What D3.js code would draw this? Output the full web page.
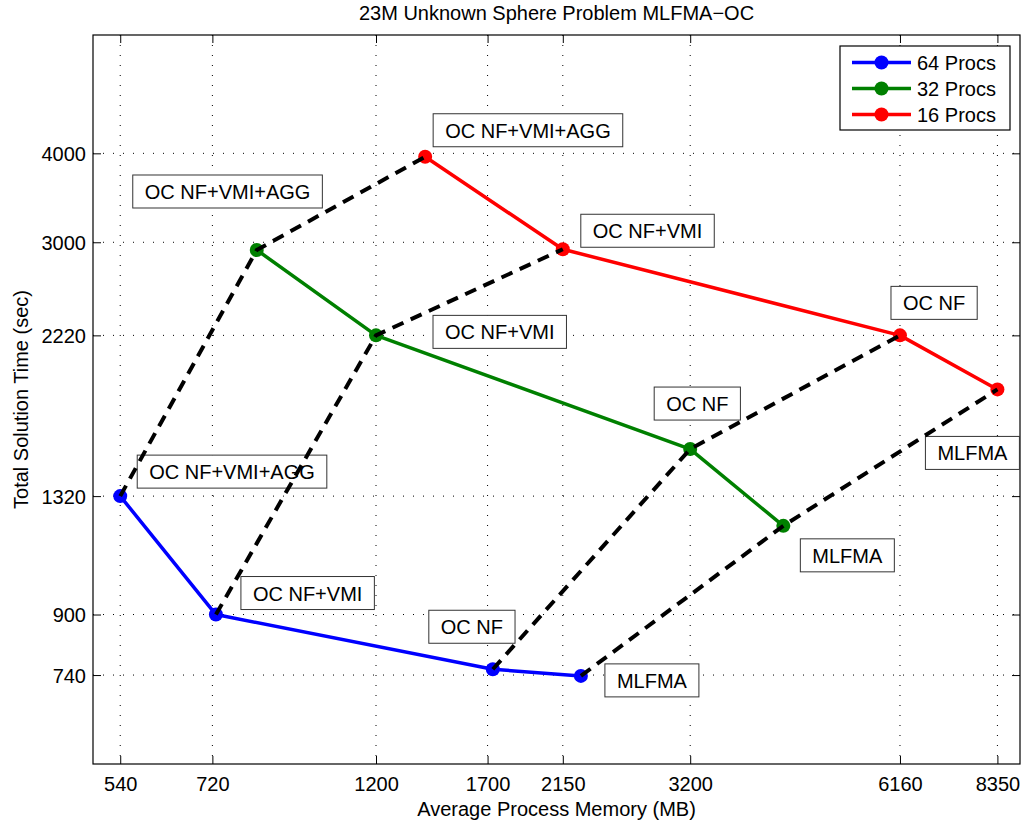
<!DOCTYPE html>
<html>
<head>
<meta charset="utf-8">
<script src="https://cdn.jsdelivr.net/npm/d3@7"></script>
<style>
  body { margin: 0; background: #fff; }
  svg text { font-family: "Liberation Sans", Arial, Helvetica, sans-serif; fill: #000; }
</style>
</head>
<body>
<div id="chart"></div>
<script>
// ---- data ----
var seriesNames = ["64 Procs", "32 Procs", "16 Procs"];
var memory64 = [540, 728, 1728, 2275];
var time64   = [1320, 900, 754, 738];
var memory32 = [827, 1200, 3200, 4280];
var time32   = [2926, 2220, 1537, 1199];
var memory16 = [1399, 2150, 6160, 8350];
var time16   = [3956, 2933, 2220, 1864];
var levels   = ["OC NF+VMI+AGG", "OC NF+VMI", "OC NF", "MLFMA"];

var xTicks = [540, 720, 1200, 1700, 2150, 3200, 6160, 8350];
var yTicks = [740, 900, 1320, 2220, 3000, 4000];

// ---- layout ----
var W = 1023, H = 825;
var plotL = 93, plotR = 1020, plotT = 35, plotB = 764;
var colors = ["#0000ff", "#008000", "#ff0000"];

// label box offsets (px, box top-left relative to its point), one row per series
var labelOffsets = [
  [[17, -41], [25, -38], [-64, -59], [24, -12]],
  [[-124, -75], [57, -20], [-36, -62], [17, 13]],
  [[8, -43], [18, -35], [-9, -49], [-72, 47]]
];

var series = [
  { name: seriesNames[0], mem: memory64, time: time64 },
  { name: seriesNames[1], mem: memory32, time: time32 },
  { name: seriesNames[2], mem: memory16, time: time16 }
];

var x = d3.scaleLog().domain([496, 8960]).range([plotL, plotR]);
var y = d3.scaleLog().domain([555, 5865]).range([plotB, plotT]);

var svg = d3.select("#chart").append("svg")
    .attr("width", W)
    .attr("height", H);

svg.append("rect").attr("width", W).attr("height", H).attr("fill", "#fff");

// grid
var grid = svg.append("g");
grid.selectAll("line.gx").data(xTicks).enter().append("line")
    .attr("x1", function(d){ return x(d); }).attr("x2", function(d){ return x(d); })
    .attr("y1", plotT).attr("y2", plotB)
    .attr("stroke", "#000").attr("stroke-width", 1)
    .attr("stroke-dasharray", "1,9");
grid.selectAll("line.gy").data(yTicks).enter().append("line")
    .attr("y1", function(d){ return y(d); }).attr("y2", function(d){ return y(d); })
    .attr("x1", plotL).attr("x2", plotR)
    .attr("stroke", "#000").attr("stroke-width", 1)
    .attr("stroke-dasharray", "1,9");

// axes (inward ticks on all four sides, like a boxed MATLAB plot)
var fmt = function(d){ return String(d); };
var xAxisG = svg.append("g").attr("transform", "translate(0," + plotB + ")")
    .call(d3.axisBottom(x).tickValues(xTicks).tickFormat(fmt).tickSizeInner(-8).tickSizeOuter(0));
svg.append("g").attr("transform", "translate(0," + plotT + ")")
    .call(d3.axisTop(x).tickValues(xTicks).tickFormat("").tickSizeInner(-8).tickSizeOuter(0));
var yAxisG = svg.append("g").attr("transform", "translate(" + plotL + ",0)")
    .call(d3.axisLeft(y).tickValues(yTicks).tickFormat(fmt).tickSizeInner(-8).tickSizeOuter(0));
svg.append("g").attr("transform", "translate(" + plotR + ",0)")
    .call(d3.axisRight(y).tickValues(yTicks).tickFormat("").tickSizeInner(-8).tickSizeOuter(0));

svg.selectAll(".domain").remove();
svg.selectAll(".tick line").attr("stroke", "#000");
svg.selectAll(".tick text").attr("font-size", "20px")
    .attr("font-family", "Liberation Sans, Arial, sans-serif");
xAxisG.selectAll(".tick text").attr("y", 27).attr("dy", null);
yAxisG.selectAll(".tick text").attr("x", -7).attr("dy", "0.35em");

svg.append("rect")
    .attr("x", plotL).attr("y", plotT)
    .attr("width", plotR - plotL).attr("height", plotB - plotT)
    .attr("fill", "none").attr("stroke", "#000").attr("stroke-width", 1.2);

// series lines
var line = d3.line()
    .x(function(d){ return x(d[0]); })
    .y(function(d){ return y(d[1]); });

series.forEach(function(s, si){
    var pts = s.mem.map(function(m, i){ return [m, s.time[i]]; });
    svg.append("path")
        .attr("d", line(pts))
        .attr("fill", "none")
        .attr("stroke", colors[si])
        .attr("stroke-width", 3.5)
        .attr("stroke-linejoin", "round");
    svg.selectAll("circle.s" + si).data(pts).enter().append("circle")
        .attr("class", "s" + si)
        .attr("cx", function(d){ return x(d[0]); })
        .attr("cy", function(d){ return y(d[1]); })
        .attr("r", 7)
        .attr("fill", colors[si]);
});

// annotation boxes
series.forEach(function(s, si){
    s.mem.forEach(function(m, i){
        var bx = x(m) + labelOffsets[si][i][0];
        var by = y(s.time[i]) + labelOffsets[si][i][1];
        var g = svg.append("g");
        var r = g.append("rect")
            .attr("x", bx).attr("y", by)
            .attr("height", 33)
            .attr("fill", "#fff")
            .attr("stroke", "#333").attr("stroke-width", 1);
        var t = g.append("text")
            .attr("x", bx + 12).attr("y", by + 24)
            .attr("font-size", "20px")
            .text(levels[i]);
        r.attr("width", t.node().getComputedTextLength() + 24);
    });
});

// dashed links across processor counts
levels.forEach(function(lv, i){
    var pts = series.map(function(s){ return [s.mem[i], s.time[i]]; });
    svg.append("path")
        .attr("d", line(pts))
        .attr("fill", "none")
        .attr("stroke", "#000")
        .attr("stroke-width", 4)
        .attr("stroke-dasharray", "12,8");
});

// legend
var lg = svg.append("g");
lg.append("rect")
    .attr("x", 840).attr("y", 46).attr("width", 170).attr("height", 84)
    .attr("fill", "#fff").attr("stroke", "#000").attr("stroke-width", 1.2);
series.forEach(function(s, si){
    var ly = 62.5 + si * 26;
    lg.append("line")
        .attr("x1", 852).attr("x2", 911).attr("y1", ly).attr("y2", ly)
        .attr("stroke", colors[si]).attr("stroke-width", 3.5);
    lg.append("circle").attr("cx", 881.5).attr("cy", ly).attr("r", 7).attr("fill", colors[si]);
    lg.append("text").attr("x", 917).attr("y", ly + 7)
        .attr("font-size", "20px").text(s.name);
});

// titles
svg.append("text")
    .attr("x", (plotL + plotR) / 2).attr("y", 20)
    .attr("text-anchor", "middle").attr("font-size", "20px")
    .text("23M Unknown Sphere Problem MLFMA\u2212OC");
svg.append("text")
    .attr("x", (plotL + plotR) / 2).attr("y", 816)
    .attr("text-anchor", "middle").attr("font-size", "20px")
    .text("Average Process Memory (MB)");
svg.append("text")
    .attr("transform", "translate(28," + ((plotT + plotB) / 2) + ") rotate(-90)")
    .attr("text-anchor", "middle").attr("font-size", "20px")
    .text("Total Solution Time (sec)");
</script>
</body>
</html>
